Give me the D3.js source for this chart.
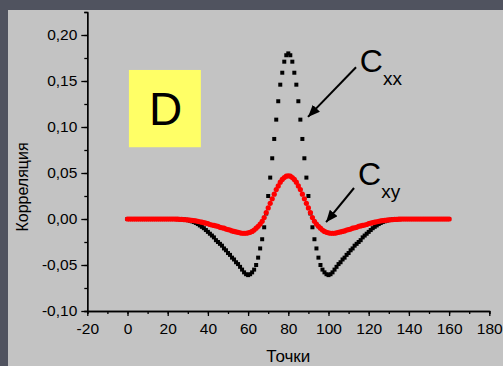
<!DOCTYPE html>
<html>
<head>
<meta charset="utf-8">
<script src="https://cdn.jsdelivr.net/npm/d3@7"></script>
<style>
body{margin:0;background:#50535f;}
text{font-family:"Liberation Sans",Arial,sans-serif;}
</style>
</head>
<body>
<div id="chart"></div>
<script>
// точки 0..160
var points = d3.range(0,161);

var cxx = [0,0,0,0,0,0,0,0,0,0,0,0,0,0,0,0,0,0,0,0,0,0,0,0,0
,-0.0001,-0.0002,-0.0003,-0.0005,-0.0008,-0.0012,-0.0018,-0.0025,-0.0033,-0.0043,-0.0055,-0.007,-0.0085,-0.010,-0.012,-0.014
,-0.016,-0.018,-0.020,-0.023,-0.025,-0.027,-0.029,-0.032,-0.034,-0.037,-0.039,-0.042,-0.044,-0.047,-0.049,-0.052,-0.055,-0.058,-0.060,-0.061
,-0.060,-0.058,-0.055,-0.050,-0.042,-0.032,-0.022,-0.009,0.006,0.025,0.045,0.066,0.087,0.108,0.128,0.146,0.159,0.171,0.178,0.180
,0.178,0.171,0.159,0.146,0.128,0.108,0.087,0.066,0.045,0.025,0.006,-0.009,-0.022,-0.032,-0.042,-0.050,-0.055,-0.058,-0.060,-0.061
,-0.060,-0.058,-0.055,-0.052,-0.049,-0.047,-0.044,-0.042,-0.039,-0.037,-0.034,-0.032,-0.029,-0.027,-0.025,-0.023,-0.020,-0.018,-0.016,-0.014
,-0.012,-0.010,-0.0085,-0.007,-0.0055,-0.0043,-0.0033,-0.0025,-0.0018,-0.0012,-0.0008,-0.0005,-0.0003,-0.0002,-0.0001
,0,0,0,0,0,0,0,0,0,0,0,0,0,0,0,0,0,0,0,0,0,0,0,0,0];

var cxy = [0,0,0,0,0,0,0,0,0,0,0,0,0,0,0,0,0,0,0,0,0,0,0,0
,-0.0001,-0.0002,-0.0003,-0.0004,-0.0006,-0.0008,-0.001,-0.0012,-0.0015,-0.0018,-0.002,-0.0025,-0.003,-0.0035,-0.004,-0.0045,-0.005
,-0.006,-0.0065,-0.007,-0.0075,-0.008,-0.009,-0.0095,-0.010,-0.011,-0.0115,-0.012,-0.013,-0.0135,-0.014,-0.0145,-0.015,-0.0155,-0.0155,-0.0155,-0.015
,-0.0145,-0.0135,-0.012,-0.010,-0.008,-0.0055,-0.0025,0.0015,0.007,0.012,0.017,0.022,0.027,0.032,0.036,0.040,0.043,0.045,0.0465,0.047
,0.0465,0.045,0.043,0.040,0.036,0.032,0.027,0.022,0.017,0.012,0.007,0.0015,-0.0025,-0.0055,-0.008,-0.010,-0.012,-0.0135,-0.0145,-0.015
,-0.0155,-0.0155,-0.0155,-0.015,-0.0145,-0.014,-0.0135,-0.013,-0.012,-0.0115,-0.011,-0.010,-0.0095,-0.009,-0.008,-0.0075,-0.007,-0.0065,-0.006,-0.005
,-0.0045,-0.004,-0.0035,-0.003,-0.0025,-0.002,-0.0018,-0.0015,-0.0012,-0.001,-0.0008,-0.0006,-0.0004,-0.0003,-0.0002,-0.0001
,0,0,0,0,0,0,0,0,0,0,0,0,0,0,0,0,0,0,0,0,0,0,0,0];

var xTicks = [-20,0,20,40,60,80,100,120,140,160,180];
var yTicks = [-0.10,-0.05,0.00,0.05,0.10,0.15,0.20];

var w = 503;
var h = 366;

var xscale = d3.scaleLinear().domain([-20,180]).range([87.3,489.3]);
var yscale = d3.scaleLinear().domain([-0.1,0.225]).range([311,12]);

var svg = d3.select("#chart")
	.append("svg")
	.attr("width",w)
	.attr("height",h);

svg.append("rect").attr("width",w).attr("height",h).style("fill","#50535f");
svg.append("rect").attr("x",8).attr("y",10).attr("width",w-8).attr("height",h-10).style("fill","#c3c3c3");

// дефис вместо минуса, запятая вместо точки
var comma = function(d){return d3.format(".2f")(d).replace(".",",").replace("\u2212","-")};
var plain = function(d){return String(d)};

// малые деления
svg.append("g")
	.attr("transform","translate(0,"+yscale(-0.1)+")")
	.call(d3.axisBottom(xscale).tickValues(d3.range(-20,181,10)).tickSize(3).tickFormat(""));
svg.append("g")
	.attr("transform","translate("+xscale(-20)+",0)")
	.call(d3.axisLeft(yscale).tickValues(d3.range(-4,10).map(function(i){return i*0.025})).tickSize(3).tickFormat(""));

var xaxis = svg.append("g")
	.attr("transform","translate(0,"+yscale(-0.1)+")")
	.call(d3.axisBottom(xscale).tickValues(xTicks).tickSize(5).tickPadding(7).tickFormat(plain).tickSizeOuter(0));
var yaxis = svg.append("g")
	.attr("transform","translate("+xscale(-20)+",0)")
	.call(d3.axisLeft(yscale).tickValues(yTicks).tickSize(6).tickPadding(4).tickFormat(comma).tickSizeOuter(0));

svg.selectAll(".domain, .tick line").style("stroke","#000").style("stroke-width",1.3);
svg.selectAll(".tick text").style("font-size","15.5px").style("fill","#000")
	.style("font-family","'Liberation Sans',Arial,sans-serif");

svg.append("text")
	.attr("x",xscale(80)).attr("y",361.5)
	.attr("text-anchor","middle")
	.style("font-size","17px")
	.text("Точки");
svg.append("text")
	.attr("transform","translate(27.5,187) rotate(-90)")
	.attr("text-anchor","middle")
	.style("font-size","16px")
	.text("Корреляция");

// Cxx
svg.append("g").selectAll("rect")
	.data(points)
	.enter()
	.append("rect")
	.attr("x",function(d){return xscale(d)-2})
	.attr("y",function(d,i){return yscale(cxx[i])-2})
	.attr("width",4)
	.attr("height",4)
	.style("fill","#000");

// Cxy
svg.append("g").selectAll("circle")
	.data(points)
	.enter()
	.append("circle")
	.attr("cx",function(d){return xscale(d)})
	.attr("cy",function(d,i){return yscale(cxy[i])})
	.attr("r",2.6)
	.style("fill","#ff0000");

// D
svg.append("rect")
	.attr("x",xscale(0.7)).attr("y",yscale(0.162))
	.attr("width",xscale(36.5)-xscale(0.7))
	.attr("height",yscale(0.078)-yscale(0.162))
	.style("fill","#ffff66");
svg.append("text")
	.attr("x",xscale(19)).attr("y",yscale(0.102))
	.attr("text-anchor","middle")
	.style("font-size","46px")
	.text("D");

svg.append("defs").append("marker")
	.attr("id","arr")
	.attr("viewBox","0 0 12 10")
	.attr("refX",12).attr("refY",5)
	.attr("markerWidth",12).attr("markerHeight",10)
	.attr("markerUnits","userSpaceOnUse")
	.attr("orient","auto")
	.append("path").attr("d","M0,0L12,5L0,10Z").style("fill","#000");

var labels = [
	{sub:"xx", tx:115.6, ty:0.160, x1:113.7, y1:0.165, x2:89.8, y2:0.111},
	{sub:"xy", tx:114.7, ty:0.0375, x1:112.7, y1:0.0337, x2:98.8, y2:-0.0035}
];

labels.forEach(function(l){
	svg.append("line")
		.attr("x1",xscale(l.x1)).attr("y1",yscale(l.y1))
		.attr("x2",xscale(l.x2)).attr("y2",yscale(l.y2))
		.style("stroke","#000").style("stroke-width",2)
		.attr("marker-end","url(#arr)");
	var t = svg.append("text")
		.attr("x",xscale(l.tx)).attr("y",yscale(l.ty))
		.style("font-size","32px")
		.text("C");
	t.append("tspan")
		.attr("dy",13)
		.style("font-size","19px")
		.text(l.sub);
});
</script>
</body>
</html>
